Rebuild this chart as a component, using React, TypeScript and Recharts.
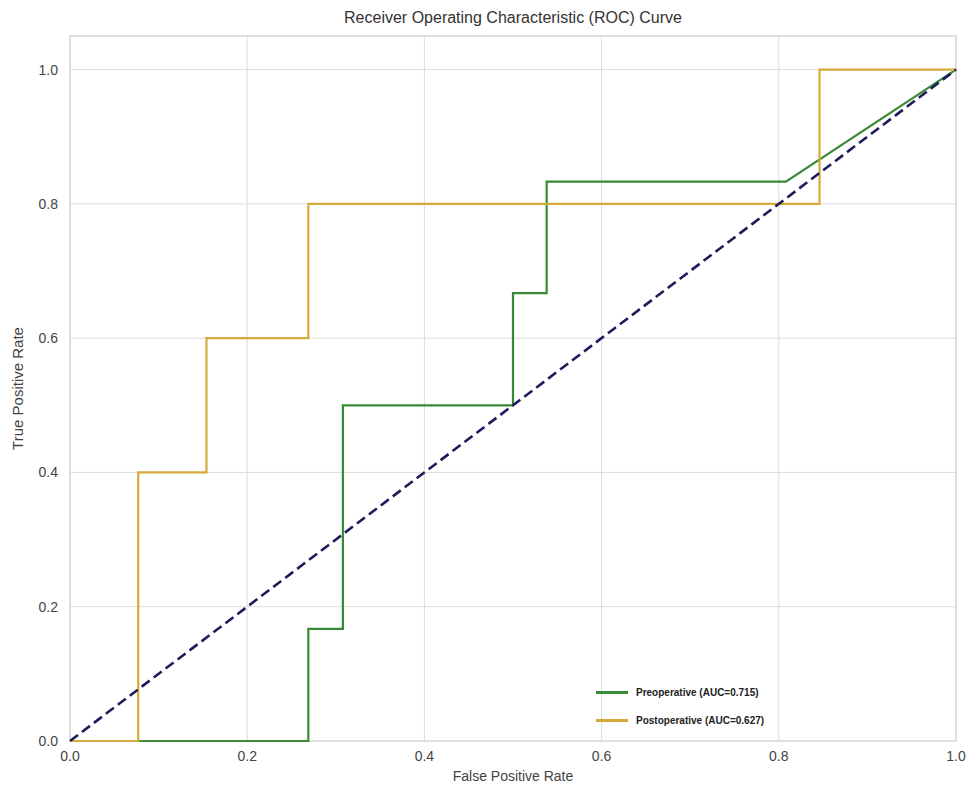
import React from 'react';
import { LineChart, Line, XAxis, YAxis, CartesianGrid, ReferenceArea } from 'recharts';

const preFpr = [0, 0.269, 0.269, 0.308, 0.308, 0.5, 0.5, 0.538, 0.538, 0.808, 1];
const preTpr = [0, 0, 0.167, 0.167, 0.5, 0.5, 0.667, 0.667, 0.833, 0.833, 1];
const postFpr = [0, 0.077, 0.077, 0.154, 0.154, 0.269, 0.269, 0.846, 0.846, 1];
const postTpr = [0, 0, 0.4, 0.4, 0.6, 0.6, 0.8, 0.8, 1, 1];
const diagFpr = [0, 1];
const diagTpr = [0, 1];
const xTicks = [0, 0.2, 0.4, 0.6, 0.8, 1.0];
const yTicks = [0, 0.2, 0.4, 0.6, 0.8, 1.0];
const seriesNames = ['Preoperative (AUC=0.715)', 'Postoperative (AUC=0.627)'];

const pre = preFpr.map((x, i) => ({ x, y: preTpr[i] }));
const post = postFpr.map((x, i) => ({ x, y: postTpr[i] }));
const diag = diagFpr.map((x, i) => ({ x, y: diagTpr[i] }));

const GREEN = '#3a8a35';
const GOLD = '#d6aa3a';
const NAVY = '#1c1c5c';
const FONT = '"Liberation Sans Narrow", "Liberation Sans", Arial, sans-serif';

const LegendBox = () => (
  <div style={{ position: 'absolute', left: 596, top: 685, fontFamily: FONT, fontSize: 10, fontWeight: 'bold', color: '#222' }}>
    {[{ c: GREEN, n: seriesNames[0] }, { c: GOLD, n: seriesNames[1] }].map((it, i) => (
      <div key={i} style={{ display: 'flex', alignItems: 'center', height: 14, marginBottom: i === 0 ? 14 : 0 }}>
        <div style={{ width: 32, height: 3, background: it.c, marginRight: 8 }} />
        <span>{it.n}</span>
      </div>
    ))}
  </div>
);

export default function App() {
  return (
    <div style={{ position: 'absolute', left: 0, top: 0, width: 970, height: 787, background: '#fff' }}>
      <div style={{ position: 'absolute', left: 70, width: 886, top: 9, textAlign: 'center', fontFamily: FONT, fontSize: 16, color: '#333' }}>
        Receiver Operating Characteristic (ROC) Curve
      </div>
      <LineChart width={970} height={787} margin={{ top: 36, right: 14, bottom: 6, left: 0 }}>
        <CartesianGrid stroke="#dcdcdc" strokeWidth={1} />
        <ReferenceArea x1={0} x2={1} y1={0} y2={1.05} fill="none" stroke="#d2d2d2" strokeWidth={1.2} ifOverflow="extendDomain" />
        <XAxis
          type="number"
          dataKey="x"
          domain={[0, 1]}
          ticks={xTicks}
          tickFormatter={(v: number) => v.toFixed(1)}
          axisLine={false}
          tickLine={false}
          height={40}
          tickMargin={4}
          tick={{ fill: '#444', fontSize: 14, fontFamily: FONT }}
          label={{ value: 'False Positive Rate', position: 'insideBottom', offset: 0, style: { fill: '#444', fontSize: 14, fontFamily: FONT } }}
        />
        <YAxis
          type="number"
          dataKey="y"
          domain={[0, 1.05]}
          ticks={yTicks}
          tickFormatter={(v: number) => v.toFixed(1)}
          axisLine={false}
          tickLine={false}
          width={70}
          tickMargin={6}
          tick={{ fill: '#444', fontSize: 14, fontFamily: FONT }}
          label={{ value: 'True Positive Rate', angle: -90, position: 'insideLeft', offset: 18, style: { textAnchor: 'middle', fill: '#444', fontSize: 15, fontFamily: FONT } }}
        />
        <Line data={pre} dataKey="y" type="linear" stroke={GREEN} strokeWidth={2.2} dot={false} isAnimationActive={false} name={seriesNames[0]} />
        <Line data={post} dataKey="y" type="linear" stroke={GOLD} strokeWidth={2.2} dot={false} isAnimationActive={false} name={seriesNames[1]} />
        <Line data={diag} dataKey="y" type="linear" stroke={NAVY} strokeWidth={2.6} strokeDasharray="10 5" dot={false} isAnimationActive={false} legendType="none" />
      </LineChart>
      <LegendBox />
    </div>
  );
}
